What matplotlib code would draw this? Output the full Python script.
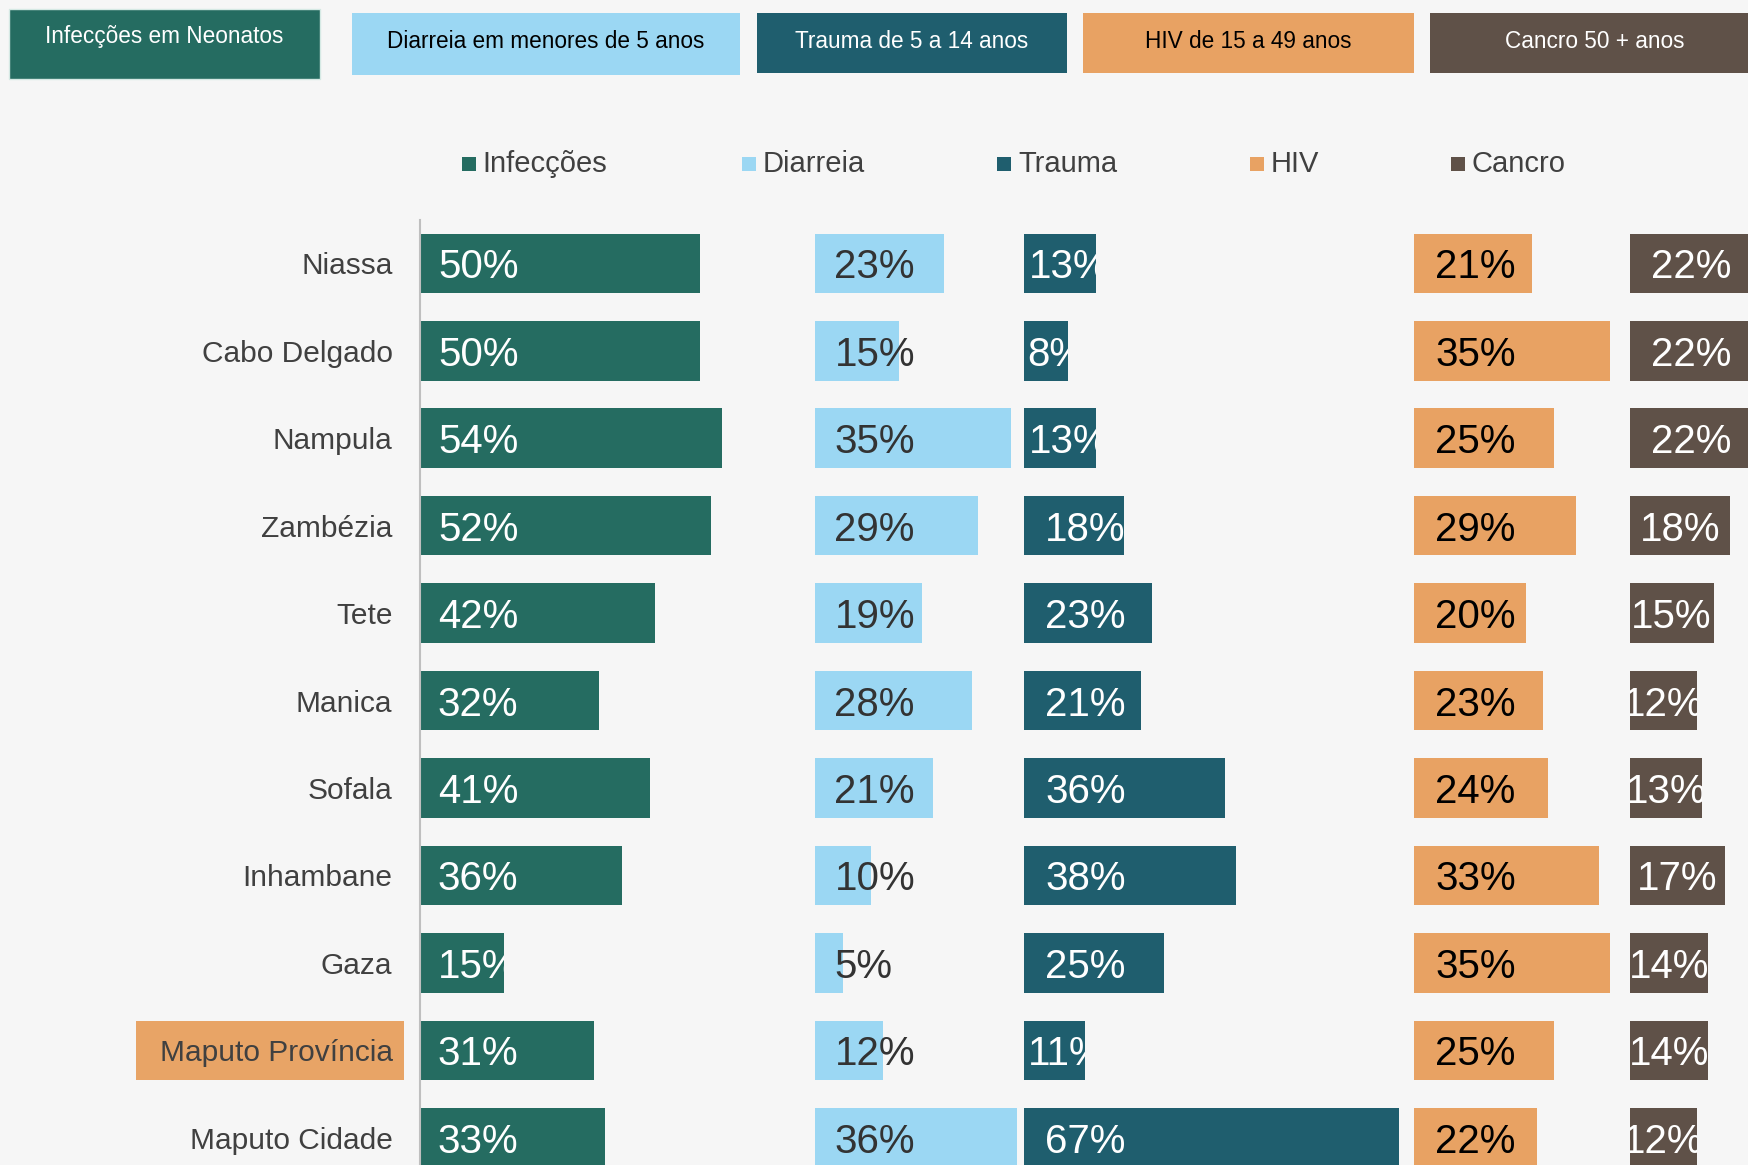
import matplotlib
matplotlib.use("Agg")
import matplotlib.pyplot as plt
from matplotlib.patches import Rectangle
from matplotlib.transforms import Bbox, TransformedBbox

plt.rcParams['font.family'] = ['Liberation Sans', 'DejaVu Sans']

# ---------------- data ----------------
regions = ["Niassa", "Cabo Delgado", "Nampula", "Zambézia", "Tete", "Manica",
           "Sofala", "Inhambane", "Gaza", "Maputo Província", "Maputo Cidade"]
infeccoes = [50, 50, 54, 52, 42, 32, 41, 36, 15, 31, 33]
diarreia = [23, 15, 35, 29, 19, 28, 21, 10, 5, 12, 36]
trauma = [13, 8, 13, 18, 23, 21, 36, 38, 25, 11, 67]
hiv = [21, 35, 25, 29, 20, 23, 24, 33, 35, 25, 22]
cancro = [22, 22, 22, 18, 15, 12, 13, 17, 14, 14, 12]
series_names = ["Infecções", "Diarreia", "Trauma", "HIV", "Cancro"]
header_titles = ["Infecções em Neonatos", "Diarreia em menores de 5 anos",
                 "Trauma de 5 a 14 anos", "HIV de 15 a 49 anos", "Cancro 50 + anos"]
highlight_region = "Maputo Província"

# ---------------- style ----------------
colors = ["#256c61", "#9bd7f3", "#1f5e6e", "#e8a263", "#5f5148"]
label_colors = ["white", "#333333", "white", "black", "white"]
col_offsets = [0, 70.6, 107.8, 177.5, 216.0]   # start of each column (x units)
BG = "#f6f6f6"
W, H = 1748, 1165
PX_PER_UNIT = 5.6
ROW_PX = 87.45
AX_LEFT_PX = 420
AX_TOP_PX = 219.6

def fx(px):
    return px / W

def fy(py):
    return 1 - py / H

fig = plt.figure(figsize=(W / 100, H / 100), dpi=100, facecolor=BG)

ax = fig.add_axes([fx(AX_LEFT_PX), 0, 1 - fx(AX_LEFT_PX), 1 - AX_TOP_PX / H])
ax.set_facecolor("none")
ax.set_xlim(0, (W - AX_LEFT_PX) / PX_PER_UNIT)
ax.set_ylim(-0.5 + (H - AX_TOP_PX) / ROW_PX, -0.5)

n = len(regions)
ypos = list(range(n))
all_series = [infeccoes, diarreia, trauma, hiv, cancro]

for s, vals in enumerate(all_series):
    off = col_offsets[s]
    ax.barh(ypos, vals, left=off, height=0.68, color=colors[s],
            zorder=2, linewidth=0)
    for i, v in enumerate(vals):
        txt = f"{v}%"
        if s == 4:          # Cancro: centred in the bar
            x = off + v / 2
            ha = "center"
        else:
            if s == 0:
                pad = 3.2
            elif s == 1:
                pad = 3.4
            elif s == 2:
                pad = min(max(v - 12, 0.7), 3.8)
            else:
                pad = 3.8
            x = off + pad
            ha = "left"
        t = ax.text(x, i + 0.045, txt, ha=ha, va="center", fontsize=29,
                    color=label_colors[s], zorder=3, clip_on=True)
        if s != 1 and s != 3:
            bb = Bbox.from_extents(off, i - 0.34, off + v, i + 0.34)
            t.set_clip_box(TransformedBbox(bb, ax.transData))

# axes styling
for side in ["top", "right", "bottom"]:
    ax.spines[side].set_visible(False)
ax.spines["left"].set_color("#bfbfbf")
ax.spines["left"].set_linewidth(1.5)
ax.set_xticks([])
ax.set_yticks(ypos)
ax.set_yticklabels(regions, fontsize=21.5, color="#404040")
ax.tick_params(axis="y", length=0, pad=19.8)

# highlight box behind "Maputo Província"
hi = regions.index(highlight_region)
hy = 263 + hi * ROW_PX
fig.patches.append(Rectangle((fx(136), fy(hy + 30)), fx(404) - fx(136), (59) / H,
                             transform=fig.transFigure, facecolor="#e8a466",
                             edgecolor="none", zorder=-1))

# ---------------- header boxes ----------------
boxes = [(8.6, 320, 9.3, 79), (352, 740, 13.3, 75), (757, 1066.6, 13.3, 72.7),
         (1083, 1414, 13.3, 72.7), (1430, 1760, 13.3, 72.7)]
header_text_colors = ["white", "black", "white", "black", "white"]
for k, (x0, x1, y0, y1) in enumerate(boxes):
    ec = "#d5e9e4" if k == 0 else "none"
    fig.patches.append(Rectangle((fx(x0), fy(y1)), (x1 - x0) / W, (y1 - y0) / H,
                                 transform=fig.transFigure, facecolor=colors[k],
                                 edgecolor=ec, linewidth=1, zorder=1))
    ty = 36 if k == 0 else 41
    fig.text(fx((x0 + x1) / 2), fy(ty), header_titles[k], ha="center",
             va="center", fontsize=16.3, color=header_text_colors[k], zorder=2)

# ---------------- legend ----------------
legend_text_x = [482.7, 762.5, 1018, 1271, 1471.5]
LEG_Y = 164
for k, name in enumerate(series_names):
    tx = legend_text_x[k]
    fig.patches.append(Rectangle((fx(tx - 21), fy(LEG_Y + 7)), 14 / W, 14 / H,
                                 transform=fig.transFigure, facecolor=colors[k],
                                 edgecolor="none", zorder=1))
    fig.text(fx(tx), fy(LEG_Y), name, ha="left", va="center", fontsize=21,
             color="#404040")

fig.savefig("out.png", dpi=100, facecolor=BG)
